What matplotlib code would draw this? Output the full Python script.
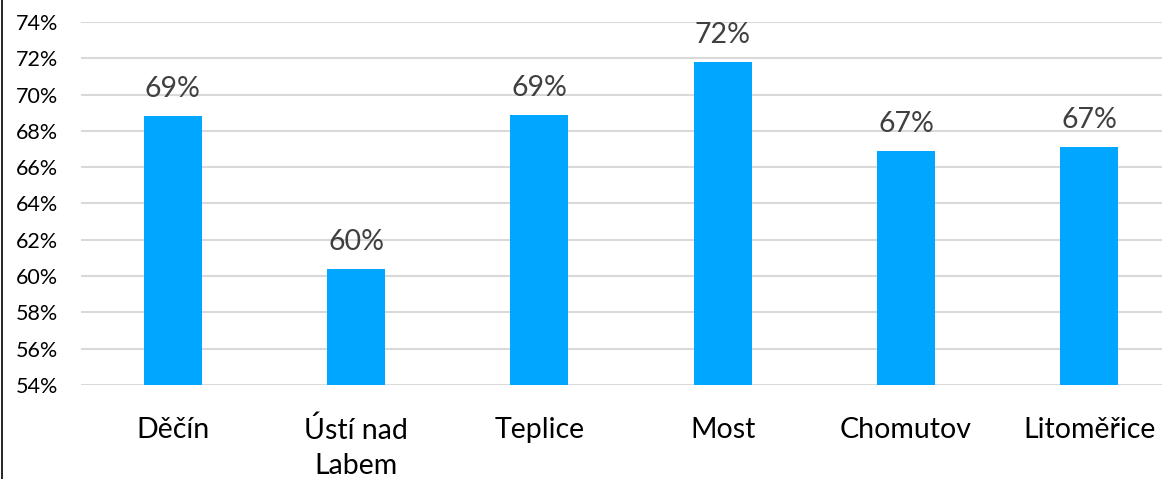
import matplotlib.pyplot as plt
from matplotlib.lines import Line2D
from matplotlib.ticker import FuncFormatter

# data
districts = ["Děčín", "Ústí nad\nLabem", "Teplice", "Most", "Chomutov", "Litoměřice"]
shares = [68.8, 60.4, 68.9, 71.8, 66.9, 67.1]
labels = ["69%", "60%", "69%", "72%", "67%", "67%"]

plt.rcParams["font.family"] = ["Lato", "DejaVu Sans"]

W, H = 1162, 479
fig = plt.figure(figsize=(W / 100, H / 100), dpi=100)
ax = fig.add_axes([81 / W, (H - 385) / H, 1100 / W, 363 / H])

x = range(len(districts))
bars = ax.bar(x, [s - 54 for s in shares], bottom=54, width=0.316,
              color="#00A6FF", zorder=3)

for xi, s, lab in zip(x, shares, labels):
    ax.annotate(lab, (xi, s), xytext=(0, 10), textcoords="offset points",
                ha="center", va="bottom", fontsize=20.5, color="#404040")

ax.set_xlim(-0.5, len(districts) - 0.5)
ax.set_ylim(54, 74)
ax.set_yticks(range(54, 75, 2))
ax.yaxis.set_major_formatter(FuncFormatter(lambda v, _: f"{v:.0f}%"))
ax.set_xticks(list(x))
ax.set_xticklabels(districts, fontsize=20.5, linespacing=1.4)
ax.tick_params(axis="x", length=0, pad=23)
ax.tick_params(axis="y", length=0, pad=16.5, labelsize=15.5)
ax.grid(axis="y", color="#D9D9D9", linewidth=1.5, zorder=0)
for side in ax.spines.values():
    side.set_visible(False)

# thin frame line at the left edge of the crop
fig.add_artist(Line2D([1.5 / W, 1.5 / W], [0, 1], color="black", linewidth=1.2))

fig.savefig("out.png", dpi=100)
